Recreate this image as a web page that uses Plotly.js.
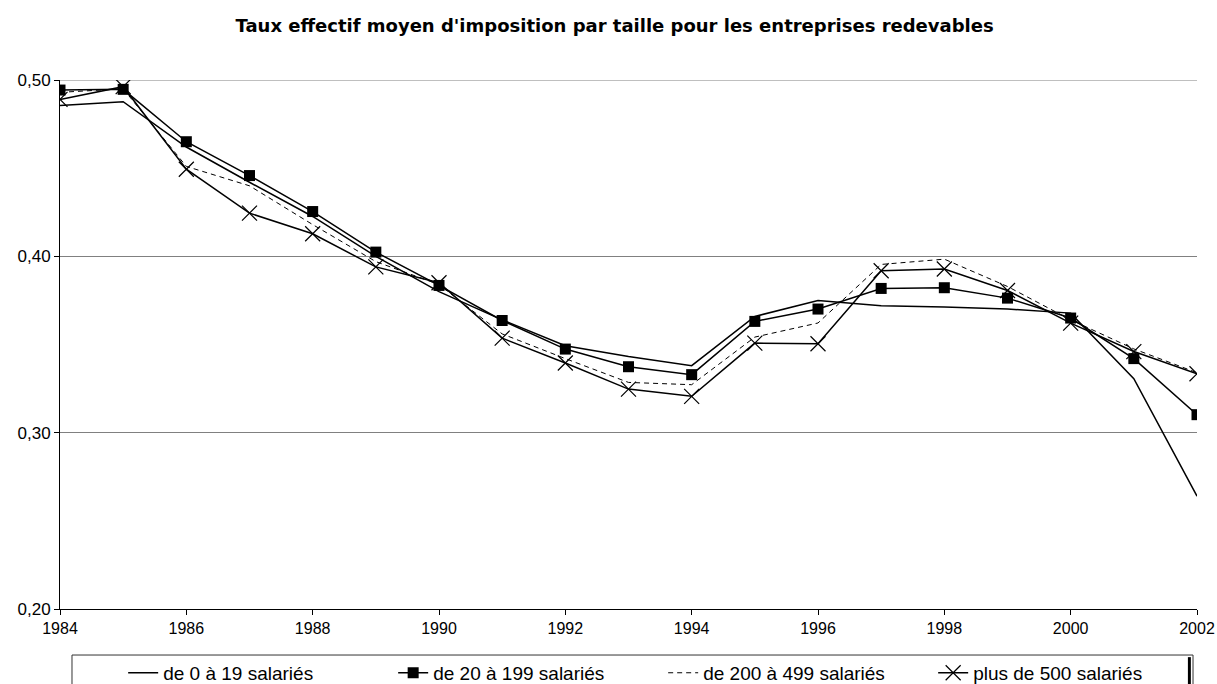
<!DOCTYPE html>
<html>
<head>
<meta charset="utf-8">
<script src="https://cdn.plot.ly/plotly-3.0.1.min.js"></script>
<style>html,body{margin:0;padding:0;background:#fff;}#chart{width:1217px;height:684px;}</style>
</head>
<body>
<div id="chart"></div>
<script>
const years = [1984,1985,1986,1987,1988,1989,1990,1991,1992,1993,1994,1995,1996,1997,1998,1999,2000,2001,2002];
const s0_19   = [0.4855,0.4877,0.462,0.442,0.4226,0.400,0.380,0.364,0.3493,0.3432,0.338,0.3659,0.375,0.372,0.3712,0.3701,0.3678,0.3306,0.264];
const s20_199 = [0.4943,0.4947,0.465,0.4458,0.4254,0.4024,0.3835,0.3636,0.3474,0.3374,0.3329,0.3631,0.3701,0.3818,0.3822,0.3763,0.365,0.342,0.3102];
const s200_499= [0.493,0.495,0.451,0.440,0.418,0.397,0.384,0.356,0.342,0.3285,0.3272,0.3542,0.3622,0.3954,0.3984,0.3829,0.364,0.3475,0.334];
const s500    = [0.489,0.4962,0.4494,0.4245,0.4128,0.394,0.385,0.3536,0.3395,0.3247,0.3206,0.3508,0.3504,0.3918,0.3928,0.3806,0.3621,0.346,0.3334];
const names = ["de 0 à 19 salariés","de 20 à 199 salariés","de 200 à 499 salariés","plus de 500 salariés"];
const xTicks = [1984,1986,1988,1990,1992,1994,1996,1998,2000,2002];
const yTicks = [0.20,0.30,0.40,0.50];

const traces = [
  {x: years, y: s0_19, name: names[0], mode: 'lines', line: {color: '#000', width: 1.5}},
  {x: years, y: s20_199, name: names[1], mode: 'lines+markers', line: {color: '#000', width: 1.5},
   marker: {symbol: 'square', size: 11, color: '#000'}},
  {x: years, y: s200_499, name: names[2], mode: 'lines', line: {color: '#000', width: 1, dash: '5px,4px'}},
  {x: years, y: s500, name: names[3], mode: 'lines+markers', line: {color: '#000', width: 1.5},
   marker: {symbol: 'x-thin', size: 15, color: '#000', line: {color: '#000', width: 1.2}}}
];

const layout = {
  width: 1217, height: 684,
  margin: {l: 60, r: 20, t: 80, b: 75},
  paper_bgcolor: '#fff', plot_bgcolor: '#fff',
  separators: ', ',
  font: {family: 'Liberation Sans, Arial, sans-serif', color: '#000', size: 15},
  title: {text: "<b>Taux effectif moyen d'imposition par taille pour les entreprises redevables</b>",
          font: {family: 'DejaVu Sans, sans-serif', size: 18, color: '#000'},
          x: 0.505, xanchor: 'center', y: 0.962, yanchor: 'middle'},
  xaxis: {range: [1984, 2002], tickmode: 'array', tickvals: xTicks, ticktext: xTicks.map(String),
          showgrid: false, zeroline: false,
          showline: true, linecolor: '#000', linewidth: 1, ticks: 'outside', ticklen: 5, tickcolor: '#000',
          tickfont: {family: 'Liberation Sans, Arial, sans-serif', size: 16, color: '#000'}},
  yaxis: {range: [0.20, 0.50], tickvals: yTicks, tickformat: '.2f', showgrid: true, gridcolor: '#808080',
          gridwidth: 1, zeroline: false, showline: true, linecolor: '#000', linewidth: 1,
          ticks: 'outside', ticklen: 5, tickcolor: '#000', tickfont: {size: 17}},
  showlegend: true,
  legend: {orientation: 'h', xref: 'container', yref: 'container', x: 0.1012, xanchor: 'left',
           y: 0.044, yanchor: 'top', borderwidth: 0, bgcolor: 'rgba(0,0,0,0)',
           font: {size: 19, color: '#000'}, entrywidth: 225, entrywidthmode: 'pixels',
           traceorder: 'normal'},
  shapes: [
    {type: 'line', xref: 'paper', yref: 'y', x0: 0, x1: 1, y0: yTicks[3], y1: yTicks[3],
     line: {color: '#808080', width: 1}, layer: 'below'},
    {type: 'rect', xref: 'paper', yref: 'paper', x0: 0.01055, x1: 0.9965, y0: -0.155, y1: -0.087,
     line: {color: '#333', width: 1}, fillcolor: 'rgba(0,0,0,0)', layer: 'below'},
    {type: 'rect', xref: 'paper', yref: 'paper', x0: 0.9920, x1: 0.9946, y0: -0.155, y1: -0.091,
     line: {width: 0}, fillcolor: '#000', layer: 'above'}
  ]
};

Plotly.newPlot('chart', traces, layout, {displayModeBar: false, staticPlot: true});
</script>
</body>
</html>
